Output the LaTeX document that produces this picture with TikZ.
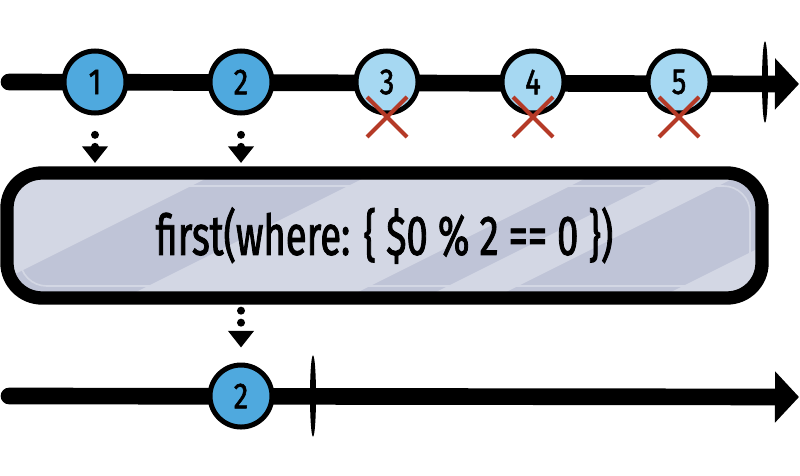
\documentclass[tikz,border=0pt]{standalone}
\usepackage{fontspec}
\setmainfont{Fira Sans}
\newfontfamily\codefont[FakeStretch=0.68,FakeBold=1.5]{Fira Sans}
\newfontfamily\digitfont[FakeStretch=0.8,FakeBold=1.5]{Fira Sans}
\usetikzlibrary{positioning,arrows.meta,calc}
\definecolor{hitblue}{HTML}{4FA9DE}
\definecolor{missblue}{HTML}{A6D8F2}
\definecolor{crossred}{HTML}{B53A27}
\definecolor{boxfill}{HTML}{BFC4D7}
\definecolor{boxlight}{HTML}{D3D7E4}

\begin{document}
\begin{tikzpicture}
    [x=0.03cm,y=-0.03cm,node distance=4.38cm,on grid,
     hit/.style={circle,draw,line width=0.15cm,fill=hitblue,minimum size=1.86cm,inner sep=0pt,
                 font=\digitfont\fontsize{31}{31}\selectfont},
     miss/.style={hit,fill=missblue},
     timeline/.style={line width=0.5cm,line cap=round,-{Triangle[length=0.72cm,width=1.5cm]}},
     dots/.style={line width=0.24cm,line cap=round,dash pattern=on 0pt off 0.36cm,
                  -{Triangle[length=0.5cm,width=0.75cm]}},
     cross/.style={draw=crossred,line width=0.12cm},
     filterbox/.style={draw,line width=0.4cm,rounded corners=1.05cm,minimum width=22.65cm,
                       minimum height=3.75cm,font=\codefont\fontsize{48}{48}\selectfont}]
    \useasboundingbox (0,0) rectangle (800,476);
    % box background with light stripes
    \begin{scope}
        \clip[rounded corners=1.05cm] (7,173) rectangle (762,298);
        \fill[boxfill] (0,160) rectangle (800,310);
        \foreach \a/\b in {-200/563,720/942,1020/1090,1255/2000}
            \fill[boxlight] (\a-320,160) -- (\b-320,160) -- (\b-620,310) -- (\a-620,310) -- cycle;
        \draw[boxlight,line width=0.05cm,rounded corners=0.8cm] (20,186) rectangle (750,286);
    \end{scope}
    % timelines
    \coordinate (s1) at (9,82);
    \coordinate (e1) at (799,84);
    \coordinate (s2) at (9,396);
    \coordinate (e2) at (799,397);
    \draw[timeline] (s1) -- (e1);
    \draw[timeline] (s2) -- (e2);
    \fill (765,82) ellipse [x radius=0.09cm,y radius=1.22cm];
    \fill (313,396) ellipse [x radius=0.09cm,y radius=1.22cm];
    % source values
    \node[hit] (c1) at (95,82) {1};
    \node[hit] (c2) [right=of c1] {2};
    \node[miss] (c3) [right=of c2] {3};
    \node[miss] (c4) [right=of c3] {4};
    \node[miss] (c5) [right=of c4] {5};
    \foreach \c in {c3,c4,c5}{
        \draw[cross] ($(\c)+(-20,15)$) -- ($(\c)+(20,55)$);
        \draw[cross] ($(\c)+(20,15)$) -- ($(\c)+(-20,55)$);
    }
    % operator
    \node[filterbox] (filter) at (384.5,235.5) {first(where: \{ \$0 \% 2 == 0 \})};
    % result
    \node[hit] (d2) [below=9.42cm of c2] {2};
    \draw[dots,shorten <=0.58cm,shorten >=0.1cm] (c1) -- (c1 |- filter.north);
    \draw[dots,shorten <=0.58cm,shorten >=0.1cm] (c2) -- (c2 |- filter.north);
    \draw[dots,shorten <=0.18cm,shorten >=0.45cm] (c2 |- filter.south) -- (d2);
\end{tikzpicture}
\end{document}
